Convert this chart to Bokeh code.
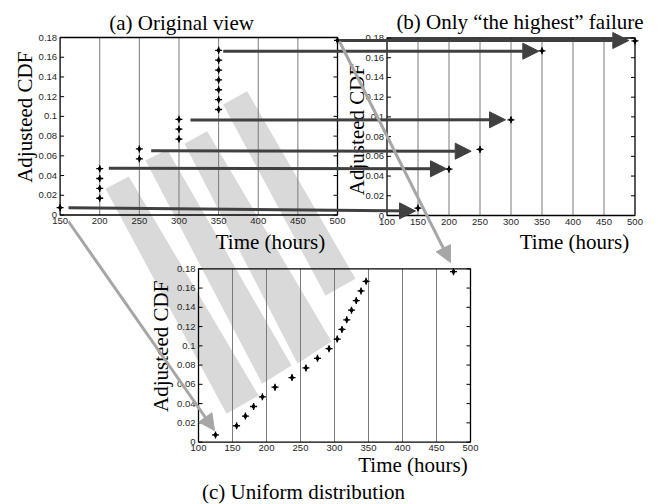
import numpy as np
from bokeh.plotting import figure
from bokeh.models import Range1d, Arrow, NormalHead, ColumnDataSource
from bokeh.core.properties import value
from bokeh.embed import file_html
from bokeh.resources import INLINE

# ---------------- data ----------------
cdf_values = [0.0075, 0.017, 0.027, 0.037, 0.047, 0.057, 0.067, 0.077, 0.087,
              0.097, 0.107, 0.117, 0.127, 0.137, 0.147, 0.157, 0.167, 0.177]
original_times = [150, 200, 200, 200, 200, 250, 250, 300, 300, 300,
                  350, 350, 350, 350, 350, 350, 350, 500]
highest_times = [150, 200, 250, 300, 350, 500]
highest_cdf = [0.0075, 0.047, 0.067, 0.097, 0.167, 0.177]
uniform_times = [125, 156, 169, 181, 194, 212.5, 237.5, 258, 275, 292,
                 304, 311, 318, 325, 332, 339, 346.5, 475]

y_ticks = [0, 0.02, 0.04, 0.06, 0.08, 0.1, 0.12, 0.14, 0.16, 0.18]
y_tick_labels = ["0", "0.02", "0.04", "0.06", "0.08", "0.1", "0.12", "0.14", "0.16", "0.18"]
x_ticks_a = [150, 200, 250, 300, 350, 400, 450, 500]
x_tick_labels_a = ["150", "200", "250", "300", "350", "400", "450", "500"]
x_ticks_bc = [100, 150, 200, 250, 300, 350, 400, 450, 500]
x_tick_labels_bc = ["100", "150", "200", "250", "300", "350", "400", "450", "500"]

titles = ["(a)  Original view", "(b) Only \u201cthe highest\u201d failure", "(c) Uniform distribution"]
x_title = "Time (hours)"
y_title = "Adjusteed CDF"

# ---------------- layout (picture pixel coordinates) ----------------
W, H = 658, 504
SERIF = value("Liberation Serif")
SANS = value("Liberation Sans")

p = figure(width=W, height=H, x_range=Range1d(0, W), y_range=Range1d(H, 0),
           output_backend="svg", toolbar_location=None, min_border=0,
           x_axis_location=None, y_axis_location=None)
p.grid.visible = False
p.outline_line_color = None
p.background_fill_color = "white"
p.border_fill_color = "white"

# projection bands (drawn first, underneath)
band_xs = [[105, 128.3, 258, 226], [145, 166.7, 291, 261.7],
           [184, 206.7, 331, 297], [222.7, 246.7, 355, 325]]
band_ys = [[188.3, 176, 395, 413.3], [160, 149, 365, 383.3],
           [143.3, 130.7, 341, 363], [104, 90.7, 278.3, 295]]
p.patches(xs=band_xs, ys=band_ys, fill_color="#d9d9d9", line_color=None)

panels = [
    dict(xr=(150, 500), px=(59.6, 337), py=(214.5, 37), xt=x_ticks_a, xl=x_tick_labels_a,
         grid=[200, 250, 300, 350, 400, 450], x=original_times, y=cdf_values),
    dict(xr=(100, 500), px=(386.5, 634.5), py=(215, 37.5), xt=x_ticks_bc, xl=x_tick_labels_bc,
         grid=[150, 200, 250, 300, 350, 400, 450], x=highest_times, y=highest_cdf),
    dict(xr=(100, 500), px=(198, 470), py=(441.6, 268.3), xt=x_ticks_bc, xl=x_tick_labels_bc,
         grid=[150, 200, 250, 300, 350, 400, 450], x=uniform_times, y=cdf_values),
]

for pan in panels:
    x0, x1 = pan["xr"]
    sub = p.subplot(x_source=Range1d(x0, x1), y_source=Range1d(0, 0.18),
                    x_target=Range1d(*pan["px"]), y_target=Range1d(*pan["py"]))
    g = pan["grid"]
    sub.segment(x0=g, y0=[0] * len(g), x1=g, y1=[0.18] * len(g),
                line_color="#7a7a7a", line_width=1)
    # inner tick marks
    sub.ray(x=[x0] * len(y_ticks), y=y_ticks, length=4, length_units="screen",
            angle=0, line_color="black", line_width=1)
    sub.ray(x=[x1] * len(y_ticks), y=y_ticks, length=4, length_units="screen",
            angle=np.pi, line_color="black", line_width=1)
    sub.quad(left=[x0], right=[x1], bottom=[0], top=[0.18], fill_color=None,
             line_color="black", line_width=1.3)
    sub.text(x=[x0] * len(y_ticks), y=y_ticks, text=y_tick_labels, x_offset=-3,
             text_align="right", text_baseline="middle", text_font=SANS,
             text_font_size="9.5px", text_color="#262626")
    sub.text(x=pan["xt"], y=[0] * len(pan["xt"]), text=pan["xl"], y_offset=3,
             text_align="center", text_baseline="top", text_font=SANS,
             text_font_size="9.5px", text_color="#262626")
    sub.scatter(x=pan["x"], y=pan["y"], marker="diamond", size=5, color="black")
    sub.scatter(x=pan["x"], y=pan["y"], marker="cross", size=7, line_color="black",
                line_width=1.3)

# titles and axis titles
p.text(x=[183.7, 519.5, 303], y=[22.5, 21.5, 491], text=titles, text_align="center",
       text_baseline="alphabetic", text_font=SERIF, text_font_size="21px", text_color="black")
p.text(x=[270, 574, 412.5], y=[241.3, 241.3, 464.7], text=[x_title] * 3, text_align="center",
       text_baseline="alphabetic", text_font=SERIF, text_font_size="21px", text_color="black")
p.text(x=[24, 356, 160], y=[116.7, 129, 345.8], text=[y_title] * 3, angle=np.pi / 2,
       text_align="center", text_baseline="alphabetic", text_font=SERIF,
       text_font_size="21px", text_color="black")

# dark arrows from (a) to (b)
dark = ColumnDataSource(dict(
    x0=[68, 108.3, 150.7, 190, 222.7, 338.3],
    y0=[207.3, 167.7, 150.3, 119.5, 50.7, 40],
    x1=[415, 446, 470.7, 505, 538.3, 628.3],
    y1=[210.5, 168.3, 150.7, 119.3, 50.7, 40]))
p.add_layout(Arrow(source=dark, x_start="x0", y_start="y0", x_end="x1", y_end="y1",
                   line_color="#404040", line_width=3,
                   end=NormalHead(size=16, fill_color="#404040", line_color="#404040")))

# light arrows from (a) to (c)
light = ColumnDataSource(dict(x0=[68, 339], y0=[221, 41], x1=[214, 450], y1=[430, 262]))
p.add_layout(Arrow(source=light, x_start="x0", y_start="y0", x_end="x1", y_end="y1",
                   line_color="#a6a6a6", line_width=3,
                   end=NormalHead(size=16, fill_color="#a6a6a6", line_color="#a6a6a6")))

open("out.html", "w").write(file_html(p, INLINE))
